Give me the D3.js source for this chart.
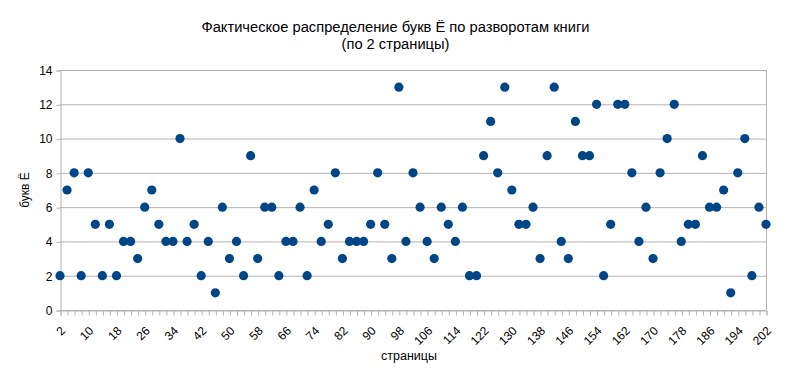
<html>
<head>
<meta charset="UTF-8">
<title>Ё</title>
<style>
body { margin: 0; background: #fff; }
text { font-family: "Liberation Sans", Arial, sans-serif; }
.grid line { stroke: #b3b3b3; stroke-width: 1; }
.axis .domain, .axis .tick line { stroke: #b3b3b3; stroke-width: 1; }
.axis .tick text { fill: #000; font-size: 12px; font-family: "Liberation Sans", Arial, sans-serif; }
</style>
</head>
<body>
<div id="chart"></div>
<script src="https://cdn.jsdelivr.net/npm/d3@7"></script>
<script>
var title = ["Фактическое распределение букв Ё по разворотам книги", "(по 2 страницы)"];
var yTitle = "букв Ё";
var xTitle = "страницы";
// страницы: 2, 4, ... 202
var pages = d3.range(2, 203, 2);
var counts = [
  2, 7, 8, 2, 8, 5, 2, 5, 2, 4,
  4, 3, 6, 7, 5, 4, 4, 10, 4, 5,
  2, 4, 1, 6, 3, 4, 2, 9, 3, 6,
  6, 2, 4, 4, 6, 2, 7, 4, 5, 8,
  3, 4, 4, 4, 5, 8, 5, 3, 13, 4,
  8, 6, 4, 3, 6, 5, 4, 6, 2, 2,
  9, 11, 8, 13, 7, 5, 5, 6, 3, 9,
  13, 4, 3, 11, 9, 9, 12, 2, 5, 12,
  12, 8, 4, 6, 3, 8, 10, 12, 4, 5,
  5, 9, 6, 6, 7, 1, 8, 10, 2, 6,
  5
];
var yTicks = [0, 2, 4, 6, 8, 10, 12, 14];

var width = 790, height = 377;
var padding = { top: 70, right: 24, bottom: 67, left: 60 };

var svg = d3.select("#chart").append("svg")
  .attr("width", width).attr("height", height);

var xScale = d3.scalePoint()
  .domain(pages)
  .range([padding.left, width - padding.right]);
var yScale = d3.scaleLinear()
  .domain([0, 14])
  .range([height - padding.bottom, padding.top]);

// сетка
svg.append("g").attr("class", "grid")
  .selectAll("line").data(yTicks).enter().append("line")
  .attr("x1", padding.left).attr("x2", width - padding.right)
  .attr("y1", function(d) { return yScale(d) + 0.5; })
  .attr("y2", function(d) { return yScale(d) + 0.5; });
svg.append("line")
  .attr("x1", width - padding.right + 0.5).attr("x2", width - padding.right + 0.5)
  .attr("y1", padding.top).attr("y2", height - padding.bottom)
  .attr("stroke", "#b3b3b3");

// ось y
var yAxis = d3.axisLeft(yScale).tickValues(yTicks).tickSize(4).tickPadding(4);
svg.append("g").attr("class", "axis")
  .attr("transform", "translate(" + (padding.left + 0.5) + ",0.5)")
  .call(yAxis);

// ось x
var xAxis = d3.axisBottom(xScale).tickSize(5)
  .tickFormat(function(d) { return (d - 2) % 8 === 0 ? d : ""; });
var gx = svg.append("g").attr("class", "axis")
  .attr("transform", "translate(0.5," + (height - padding.bottom + 0.5) + ")")
  .call(xAxis);
gx.selectAll(".tick text")
  .attr("text-anchor", "end")
  .attr("dy", null)
  .attr("y", 0)
  .attr("transform", "translate(5,21) rotate(-45)");

// точки
svg.append("g").selectAll("circle")
  .data(counts).enter().append("circle")
  .attr("cx", function(d, i) { return xScale(pages[i]); })
  .attr("cy", function(d) { return yScale(d); })
  .attr("r", 4.6)
  .attr("fill", "#004586");

// заголовок
svg.append("text").attr("x", 395.5).attr("y", 32)
  .attr("text-anchor", "middle").attr("font-size", 14.7).text(title[0]);
svg.append("text").attr("x", 395.5).attr("y", 49)
  .attr("text-anchor", "middle").attr("font-size", 14.7).text(title[1]);

svg.append("text")
  .attr("transform", "translate(29," + ((padding.top + height - padding.bottom) / 2) + ") rotate(-90)")
  .attr("text-anchor", "middle").attr("font-size", 12).text(yTitle);
svg.append("text").attr("x", 409).attr("y", 360)
  .attr("text-anchor", "middle").attr("font-size", 12.5).text(xTitle);
</script>
</body>
</html>
